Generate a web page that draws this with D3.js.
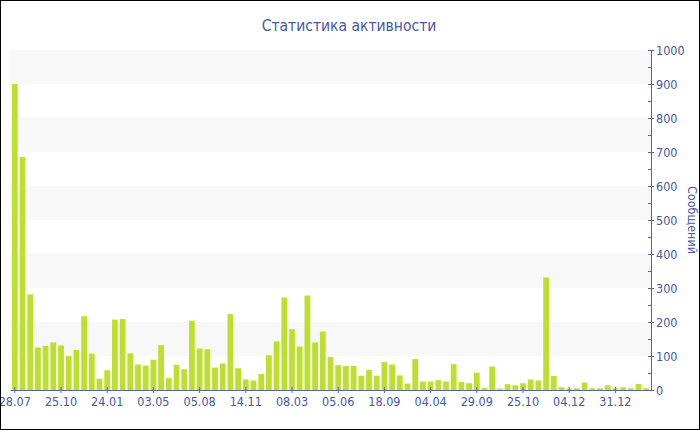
<!DOCTYPE html>
<html>
<head>
<meta charset="utf-8">
<script src="https://cdn.jsdelivr.net/npm/d3@7"></script>
<style>
	body { margin: 0; background: #fff; }
	text { font-family: "DejaVu Sans Condensed", "DejaVu Sans", sans-serif; font-stretch: condensed; }
</style>
</head>
<body>
<div class="chart"></div>
<script>
var svgWidth = 700;
var svgHeight = 430;

var title = "Статистика активности";
var yTitle = "Сообщений";

// one bar per period
var messages = [
	900, 685, 281, 125, 130, 140, 131, 100, 118, 217,
	107, 33, 58, 207, 209, 108, 75, 72, 89, 132,
	35, 74, 61, 204, 122, 120, 66, 78, 223, 64,
	31, 28, 47, 102, 143, 272, 179, 128, 278, 140,
	172, 97, 73, 71, 71, 42, 59, 42, 82, 75,
	43, 19, 91, 25, 25, 29, 25, 76, 24, 20,
	51, 6, 69, 4, 17, 14, 20, 31, 28, 331,
	41, 8, 4, 5, 22, 5, 5, 14, 5, 8,
	5, 18, 5
];

// labelled periods (every sixth bar)
var tickIndex = [0, 6, 12, 18, 24, 30, 36, 42, 48, 54, 60, 66, 72, 78];
var tickLabels = ["28.07", "25.10", "24.01", "03.05", "05.08", "14.11", "08.03",
	"05.06", "18.09", "04.04", "29.09", "25.10", "04.12", "31.12"];

var yTicks = [0, 100, 200, 300, 400, 500, 600, 700, 800, 900, 1000];
var yMinorTicks = [50, 150, 250, 350, 450, 550, 650, 750, 850, 950];

var plot = {left: 10, right: 651, top: 50, bottom: 390};
var textColor = "#4659a3";
var axisColor = "#5566a8";

var svg = d3.select(".chart")
	.append("svg")
	.attr("width", svgWidth)
	.attr("height", svgHeight);

var xScale = d3.scaleBand()
	.domain(d3.range(messages.length))
	.range([plot.left, plot.right])
	.padding(0.25);

var yScale = d3.scaleLinear()
	.domain([0, 1000])
	.range([plot.bottom, plot.top]);

// alternating background bands
var bands = yTicks.slice(0, -1).filter(function(d, i){ return i % 2 == 1; });
svg.append("g")
	.selectAll("rect")
	.data(bands)
	.enter().append("rect")
		.attr("x", plot.left)
		.attr("width", plot.right - plot.left)
		.attr("y", function(d){ return yScale(d + 100); })
		.attr("height", function(d){ return yScale(d) - yScale(d + 100); })
		.attr("fill", "#f8f8f8");

svg.append("g")
	.selectAll("rect")
	.data(messages)
	.enter().append("rect")
		.attr("x", function(d, i){ return xScale(i); })
		.attr("width", xScale.bandwidth())
		.attr("y", function(d){ return yScale(d); })
		.attr("height", function(d){ return plot.bottom - yScale(d); })
		.attr("fill", "#bde02f");

// bottom axis
var bottomAxis = d3.axisBottom(xScale)
	.tickValues(tickIndex)
	.tickFormat(function(d){ return tickLabels[tickIndex.indexOf(d)]; })
	.tickSizeInner(3)
	.tickSizeOuter(0)
	.tickPadding(4);

var xAxis = svg.append("g")
	.attr("transform", `translate(0, ${plot.bottom})`)
	.call(bottomAxis);

xAxis.selectAll(".tick line").attr("y1", -3);

// right axis
var rightAxis = d3.axisRight(yScale)
	.tickValues(yTicks)
	.tickFormat(d3.format("d"))
	.tickSizeInner(3)
	.tickSizeOuter(0)
	.tickPadding(2);

var yAxis = svg.append("g")
	.attr("transform", `translate(${plot.right}, 0)`)
	.call(rightAxis);

yAxis.selectAll(".tick line").attr("x1", -3);

yAxis.selectAll(".minor")
	.data(yMinorTicks)
	.enter().append("line")
		.attr("class", "minor")
		.attr("x1", -3)
		.attr("x2", 0)
		.attr("y1", function(d){ return yScale(d) + 0.5; })
		.attr("y2", function(d){ return yScale(d) + 0.5; })
		.attr("stroke", axisColor);

svg.selectAll(".domain, .tick line").attr("stroke", axisColor);
svg.selectAll(".tick text")
	.attr("fill", textColor)
	.style("font-size", "12.5px");

svg.append("text")
	.attr("x", 349)
	.attr("y", 31)
	.attr("text-anchor", "middle")
	.attr("fill", textColor)
	.style("font-size", "15.5px")
	.text(title);

svg.append("text")
	.attr("transform", `translate(688, ${(plot.top + plot.bottom) / 2}) rotate(90)`)
	.attr("text-anchor", "middle")
	.attr("fill", textColor)
	.style("font-size", "12.5px")
	.text(yTitle);

svg.append("rect")
	.attr("x", 0.5)
	.attr("y", 0.5)
	.attr("width", svgWidth - 1)
	.attr("height", svgHeight - 1)
	.attr("fill", "none")
	.attr("stroke", "#000");
</script>
</body>
</html>
